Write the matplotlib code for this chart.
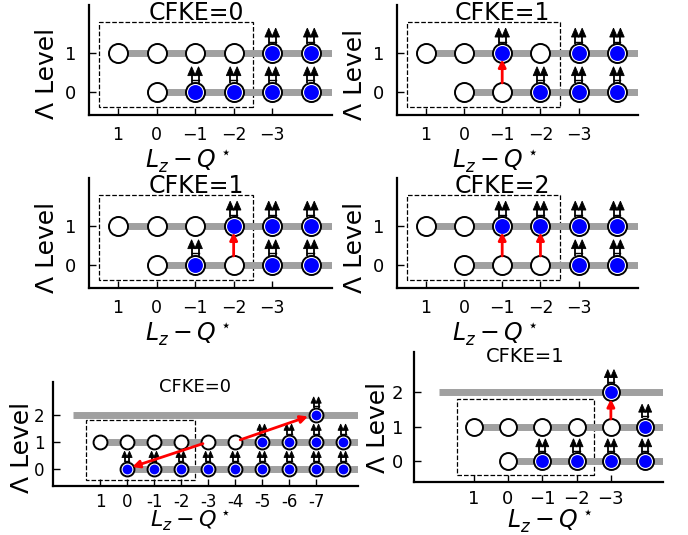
import matplotlib
matplotlib.use('Agg')
import matplotlib.pyplot as plt
from matplotlib.patches import Rectangle, Polygon

W, H = 688, 535

# ---- data: which orbitals are empty / occupied on each Lambda level ----
titles = ['CFKE=0', 'CFKE=1', 'CFKE=1', 'CFKE=2', 'CFKE=0', 'CFKE=1']

# panel 1 (top left)
p1_empty = [(1, 1), (0, 1), (-1, 1), (-2, 1), (0, 0)]
p1_full = [(-3, 1), (-4, 1), (-1, 0), (-2, 0), (-3, 0), (-4, 0)]
p1_jumps = []
# panel 2 (top right)
p2_empty = [(1, 1), (0, 1), (-2, 1), (0, 0), (-1, 0)]
p2_full = [(-1, 1), (-3, 1), (-4, 1), (-2, 0), (-3, 0), (-4, 0)]
p2_jumps = [((-1, 0.23), (-1, 0.84))]
# panel 3 (middle left)
p3_empty = [(1, 1), (0, 1), (-1, 1), (0, 0), (-2, 0)]
p3_full = [(-2, 1), (-3, 1), (-4, 1), (-1, 0), (-3, 0), (-4, 0)]
p3_jumps = [((-2, 0.23), (-2, 0.84))]
# panel 4 (middle right)
p4_empty = [(1, 1), (0, 1), (0, 0), (-1, 0), (-2, 0)]
p4_full = [(-1, 1), (-2, 1), (-3, 1), (-4, 1), (-3, 0), (-4, 0)]
p4_jumps = [((-1, 0.23), (-1, 0.84)), ((-2, 0.23), (-2, 0.84))]
# panel 5 (bottom left)
p5_empty = [(1, 1), (0, 1), (-1, 1), (-2, 1), (-3, 1), (-4, 1)]
p5_full = [(-7, 2), (-5, 1), (-6, 1), (-7, 1), (-8, 1),
           (0, 0), (-1, 0), (-2, 0), (-3, 0), (-4, 0), (-5, 0), (-6, 0), (-7, 0), (-8, 0)]
p5_jumps = [((-2.81, 0.93), (-0.19, 0.07)), ((-4.19, 1.07), (-6.7, 1.93))]
# panel 6 (bottom right)
p6_empty = [(1, 1), (0, 1), (-1, 1), (-2, 1), (-3, 1), (0, 0)]
p6_full = [(-3, 2), (-4, 1), (-1, 0), (-2, 0), (-3, 0), (-4, 0)]
p6_jumps = [((-3, 1.22), (-3, 1.8))]

top_levels = [0, 1]
bottom_levels = [0, 1, 2]
top_xticks = [1, 0, -1, -2, -3]
top_xlabels = ['1', '0', '\u22121', '\u22122', '\u22123']
bl_xticks = [1, 0, -1, -2, -3, -4, -5, -6, -7]
bl_xlabels = ['1', '0', '-1', '-2', '-3', '-4', '-5', '-6', '-7']

fig = plt.figure(figsize=(W / 100, H / 100), dpi=100)


def px(x, y):
    return x / W, 1 - y / H


def panel(box, xlim, ylim, levels, empty, full, jumps, ms, xticks, xlabels,
          tick_fs, ytick_fs, xpad, ypad, lw_bar=5):
    l, t, r, b = box
    ax = fig.add_axes([l / W, 1 - b / H, (r - l) / W, (b - t) / H])
    ax.set_xlim(*xlim)
    ax.set_ylim(*ylim)
    for lev in levels:
        ax.plot([lev, xlim[1]], [lev, lev], color='#a0a0a0', lw=lw_bar,
                solid_capstyle='butt', zorder=1)
    ax.add_patch(Rectangle((-2.5, -0.4), 4, 2.2, fill=False, ls='--',
                           lw=0.9, ec='k', zorder=0.5))
    ex = [p[0] for p in empty]
    ey = [p[1] for p in empty]
    ax.plot(ex, ey, 'o', ms=ms, mfc='white', mec='k', mew=1.4, zorder=3)
    fx = [p[0] for p in full]
    fy = [p[1] for p in full]
    ax.plot(fx, fy, 'o', ms=ms, mfc='white', mec='k', mew=1.4, zorder=3)
    ax.plot(fx, fy, 'o', ms=ms - 3, mfc='blue', mec='none', zorder=4)
    # two attached vortices on every composite fermion
    for x, y in full:
        for d in (-0.09, 0.09):
            ax.plot([x + d, x + d], [y + 0.24, y + 0.46], color='k', lw=1.3,
                    zorder=5, solid_capstyle='butt')
            ax.add_patch(Polygon([(x + d - 0.1, y + 0.42),
                                  (x + d + 0.1, y + 0.42),
                                  (x + d, y + 0.65)], closed=True,
                                 fc='k', ec='k', lw=0.6, zorder=5))
        ax.plot([x - 0.09, x + 0.09], [y + 0.3, y + 0.3], color='k',
                lw=1.0, zorder=5)
    for start, end in jumps:
        ax.annotate('', xy=end, xytext=start,
                    arrowprops=dict(arrowstyle='-|>', color='red', lw=2,
                                    mutation_scale=11, shrinkA=0, shrinkB=0),
                    zorder=6)
    for s in ['top', 'right']:
        ax.spines[s].set_visible(False)
    for s in ['left', 'bottom']:
        ax.spines[s].set_linewidth(1.6)
    ax.set_xticks(xticks, xlabels)
    ax.set_yticks(levels, [str(v) for v in levels])
    ax.tick_params(axis='x', direction='in', length=5, width=1,
                   labelsize=tick_fs, pad=xpad)
    ax.tick_params(axis='y', direction='in', length=5, width=1,
                   labelsize=ytick_fs, pad=ypad)
    return ax


top_xlim = (1.75, -4.55)
top_ylim = (-0.6, 2.25)
panel((89, 5, 332, 115), top_xlim, top_ylim, top_levels, p1_empty, p1_full,
      p1_jumps, 13.7, top_xticks, top_xlabels, 12.5, 13, 8, 9)
panel((397, 5, 638, 115), top_xlim, top_ylim, top_levels, p2_empty, p2_full,
      p2_jumps, 13.7, top_xticks, top_xlabels, 12.5, 13, 8, 9)
panel((89, 178, 332, 288), top_xlim, top_ylim, top_levels, p3_empty, p3_full,
      p3_jumps, 13.7, top_xticks, top_xlabels, 12.5, 13, 8, 9)
panel((397, 178, 638, 288), top_xlim, top_ylim, top_levels, p4_empty, p4_full,
      p4_jumps, 13.7, top_xticks, top_xlabels, 12.5, 13, 8, 9)
panel((53, 382, 358, 486), (2.74, -8.55), (-0.63, 3.2), bottom_levels,
      p5_empty, p5_full, p5_jumps, 10, bl_xticks, bl_xlabels, 12, 12, 5, 6)
panel((414, 352, 663, 482), (2.74, -4.52), (-0.6, 3.16), bottom_levels,
      p6_empty, p6_full, p6_jumps, 12.2, top_xticks, top_xlabels, 13, 13, 6, 8)

xlab = r'$L_z - Q^\star$'
ylab = '\u039b Level'

# titles, axis labels (pixel positions)
title_pos = [(196, 13, 17), (502, 13, 17), (196, 186, 17), (502, 186, 17),
             (195, 387, 13), (525, 357, 14)]
for s, (x, y, fs) in zip(titles, title_pos):
    fig.text(*px(x, y), s, ha='center', va='center', fontsize=fs)

xlab_pos = [(188, 161, 17), (495, 161, 17), (188, 334, 17), (495, 334, 17),
            (190, 521, 16), (550, 521, 17)]
for x, y, fs in xlab_pos:
    fig.text(*px(x, y), xlab, ha='center', va='center', fontsize=fs)

ylab_pos = [(47, 73, 18), (355, 74, 18), (47, 247, 18), (355, 247, 18),
            (22, 447, 18), (378, 427, 18)]
for x, y, fs in ylab_pos:
    fig.text(*px(x, y), ylab, ha='center', va='center', rotation=90,
             fontsize=fs)

fig.savefig('out.png', dpi=100)
